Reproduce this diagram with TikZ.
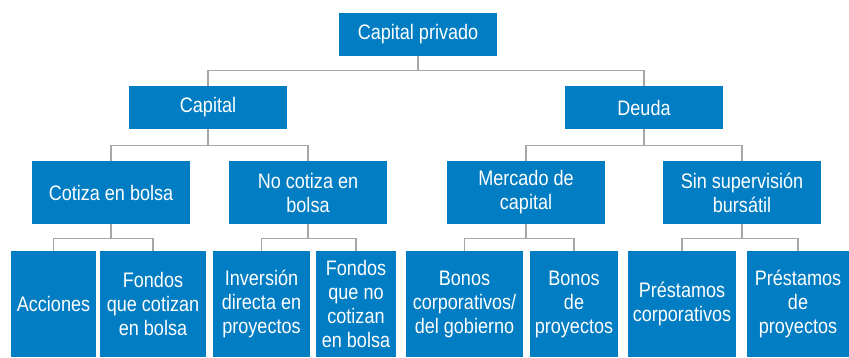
\documentclass[tikz,border=0pt]{standalone}
\usepackage{fontspec}
\setmainfont[FakeStretch=0.86]{Liberation Sans}
\usepackage{xcolor}
\usepackage{tikz}
\usetikzlibrary{positioning}

\definecolor{boxblue}{RGB}{0,125,195}
\definecolor{linegray}{RGB}{166,166,166}

\begin{document}
\begin{tikzpicture}[x=1pt, y=1pt,
  box/.style={fill=boxblue, text=white, inner sep=0pt, align=center,
              font=\fontsize{21}{24}\selectfont},
  top/.style={box, minimum width=158pt, minimum height=43pt},
  mid/.style={box, minimum width=158pt, minimum height=63pt},
  leaf/.style={box, minimum height=106pt},
  link/.style={draw=linegray, line width=1.3pt}
]
\useasboundingbox (0,0) rectangle (849,-358);

% levels
\node[top] (root)  at (418,-34.5)  {Capital privado};
\node[top] (cap)   at (208,-107.5) {Capital};
\node[top] (deuda) at (644,-107.5) {Deuda};

\node[mid] (cot)   at (111,-192.5) {Cotiza en bolsa};
\node[mid] (nocot) at (308,-192.5) {No cotiza en\\bolsa};
\node[mid] (merc)  at (526,-192.5) {Mercado de\\capital};
\node[mid] (sinsup) at (742,-192.5) {Sin supervisión\\bursátil};

\node[leaf, minimum width=85pt]  (acc)   at (53.5,-304) {Acciones};
\node[leaf, minimum width=106pt] (fcot)  at (153,-304)  {Fondos\\que cotizan\\en bolsa};
\node[leaf, minimum width=97pt]  (inv)   at (261.5,-304) {Inversión\\directa en\\proyectos};
\node[leaf, minimum width=80pt]  (fnocot) at (356,-304) {Fondos\\que no\\cotizan\\en bolsa};
\node[leaf, minimum width=117pt] (bcorp) at (464.5,-304) {Bonos\\corporativos/\\del gobierno};
\node[leaf, minimum width=88pt]  (bproy) at (574,-304)  {Bonos\\de\\proyectos};
\node[leaf, minimum width=108pt] (pcorp) at (682,-304)  {Préstamos\\corporativos};
\node[leaf, minimum width=102pt] (pproy) at (798,-304)  {Préstamos\\de\\proyectos};

% connectors
\draw[link] (root.south) -- ++(0,-14) -| (cap.north);
\draw[link] (root.south) -- ++(0,-14) -| (deuda.north);
\draw[link] (cap.south) -- ++(0,-16) -| (cot.north);
\draw[link] (cap.south) -- ++(0,-16) -| (nocot.north);
\draw[link] (deuda.south) -- ++(0,-16) -| (merc.north);
\draw[link] (deuda.south) -- ++(0,-16) -| (sinsup.north);
\draw[link] (cot.south) -- ++(0,-14) -| (acc.north);
\draw[link] (cot.south) -- ++(0,-14) -| (fcot.north);
\draw[link] (nocot.south) -- ++(0,-14) -| (inv.north);
\draw[link] (nocot.south) -- ++(0,-14) -| (fnocot.north);
\draw[link] (merc.south) -- ++(0,-14) -| (bcorp.north);
\draw[link] (merc.south) -- ++(0,-14) -| (bproy.north);
\draw[link] (sinsup.south) -- ++(0,-14) -| (pcorp.north);
\draw[link] (sinsup.south) -- ++(0,-14) -| (pproy.north);
\end{tikzpicture}
\end{document}
